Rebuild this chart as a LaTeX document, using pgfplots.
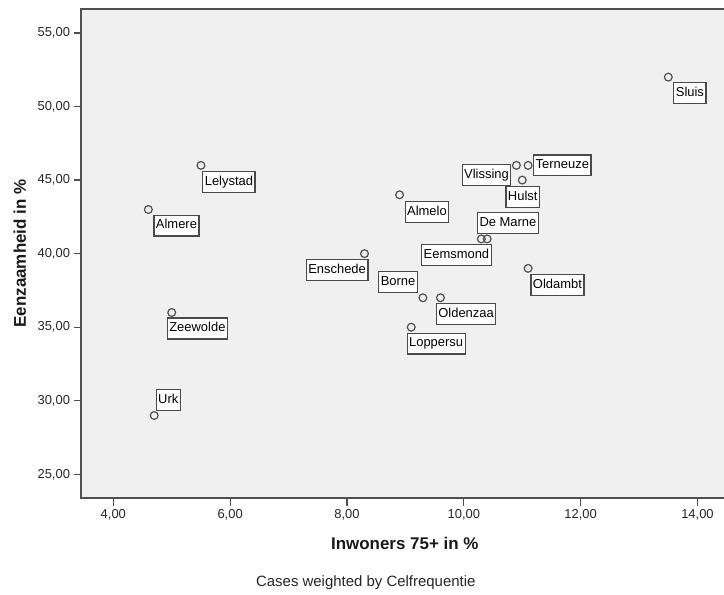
\documentclass[border=0pt]{standalone}
\usepackage{fontspec}
\setmainfont{Liberation Sans}
\usepackage{pgfplots}
\pgfplotsset{compat=1.18}
\definecolor{bg}{HTML}{F0F0F0}
\definecolor{fr}{HTML}{505050}
\definecolor{bx}{HTML}{4A4A4A}

\begin{document}
\begin{tikzpicture}
\begin{axis}[
  at={(81bp,97bp)}, anchor=south west,
  scale only axis, width=645bp, height=489bp,
  xmin=3.447, xmax=14.488, ymin=23.39, ymax=56.63,
  axis background/.style={fill=bg},
  axis line style={fr, line width=1.3bp},
  tick style={fr, line width=1.2bp},
  tick align=outside, tick pos=left, major tick length=7.5bp,
  xtick={4,6,...,14}, ytick={25,30,...,55},
  ticklabel style={font=\fontsize{13}{15}\selectfont, text=black!85},
  /pgf/number format/fixed,
  /pgf/number format/fixed zerofill,
  /pgf/number format/precision=2,
  /pgf/number format/use comma,
  /pgf/number format/assume math mode=true,
  xlabel={Inwoners 75+ in \%},
  ylabel={Eenzaamheid in \%},
  every axis x label/.style={at={(axis description cs:0.502,-0.1049)}, anchor=base},
  every axis y label/.style={at={(axis description cs:-0.0950,0.5)}, rotate=90, anchor=center},
  label style={font=\fontsize{17}{20}\selectfont\bfseries, text=black!90},
]
\addplot[only marks, mark=o, mark size=3.9bp,
  mark options={draw=fr, line width=1.2bp, fill=none},
  nodes near coords, point meta=explicit symbolic,
  visualization depends on={value \thisrow{anc} \as \anc},
  visualization depends on={\thisrow{dx} \as \dx},
  visualization depends on={\thisrow{dy} \as \dy},
  every node near coord/.style={anchor=\anc, xshift=\dx bp, yshift=\dy bp,
     fill=white, draw=bx, line width=1.2bp, inner xsep=2bp, inner ysep=4.3bp,
     text height=9.5bp, text depth=2.8bp, font=\fontsize{13}{15}\selectfont, text=black}]
  table[col sep=comma, x=x, y=y, meta=name]{
x,y,name,anc,dx,dy
13.5,52,Sluis,north west,5,-5
11.1,46,Terneuze,west,5,0
10.9,46,Vlissing,north east,-5,1.7
11.0,45,Hulst,north,0.5,-6
8.9,44,Almelo,north west,5,-6
5.5,46,Lelystad,north west,1.3,-5.7
4.6,43,Almere,north west,5,-5
8.3,40,Enschede,north east,4,-5
10.3,41,De Marne,south west,-4.4,5
10.4,41,Eemsmond,north east,4.6,-5
11.1,39,Oldambt,north west,2.3,-5.6
9.3,37,Borne,south east,-5,5
9.6,37,Oldenzaa,north west,-4.7,-5.4
9.1,35,Loppersu,north west,-4.7,-5.3
5.0,36,Zeewolde,north west,-5,-5
4.7,29,Urk,south west,1.4,4.7
};
\end{axis}
\node[anchor=base, font=\fontsize{15}{18}\selectfont, text=black!85] at (365.8bp,9bp) {Cases weighted by Celfrequentie};
\pgfresetboundingbox
\useasboundingbox (0,0) rectangle (724bp,595bp);
\end{tikzpicture}
\end{document}
